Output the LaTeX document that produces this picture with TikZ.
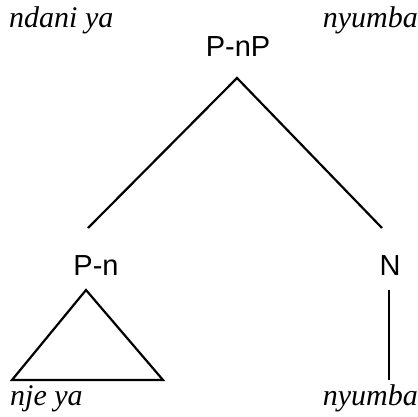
\documentclass[tikz,border=0pt]{standalone}
\usepackage{fontspec}
\setmainfont{Liberation Serif}
\setsansfont{Liberation Sans}
\begin{document}
\begin{tikzpicture}[x=1pt,y=-1pt,
  gloss/.style={font=\fontsize{30}{32}\selectfont\itshape, inner sep=0pt},
  cat/.style={font=\fontsize{29}{31}\selectfont\sffamily, inner sep=0pt},
  edge/.style={line width=2.2pt}]
\useasboundingbox (0,0) rectangle (418,417);
\node[gloss, anchor=base west] (g1) at (9,28) {ndani ya};
\node[gloss, anchor=base east] (g2) at (418,28) {nyumba};
\node[cat, anchor=base] (pnp) at (238,57) {P-nP};
\node[cat, anchor=base] (pn) at (96,275) {P-n};
\node[cat, anchor=base] (n) at (390,275) {N};
\coordinate (top) at (237,78);
\coordinate (l) at (88,228);
\coordinate (r) at (382,228);
\draw[edge] (l) -- (top) -- (r);
\coordinate (ta) at (86,290);
\coordinate (tl) at (12,380);
\coordinate (tr) at (163,380);
\draw[edge, line join=miter] (ta) -- (tl) -- (tr) -- cycle;
\coordinate (vt) at (389,290);
\coordinate (vb) at (389,380);
\draw[edge] (vt) -- (vb);
\node[gloss, anchor=base west] (g3) at (10,405) {nje ya};
\node[gloss, anchor=base east] (g4) at (418,405) {nyumba};
\end{tikzpicture}
\end{document}
